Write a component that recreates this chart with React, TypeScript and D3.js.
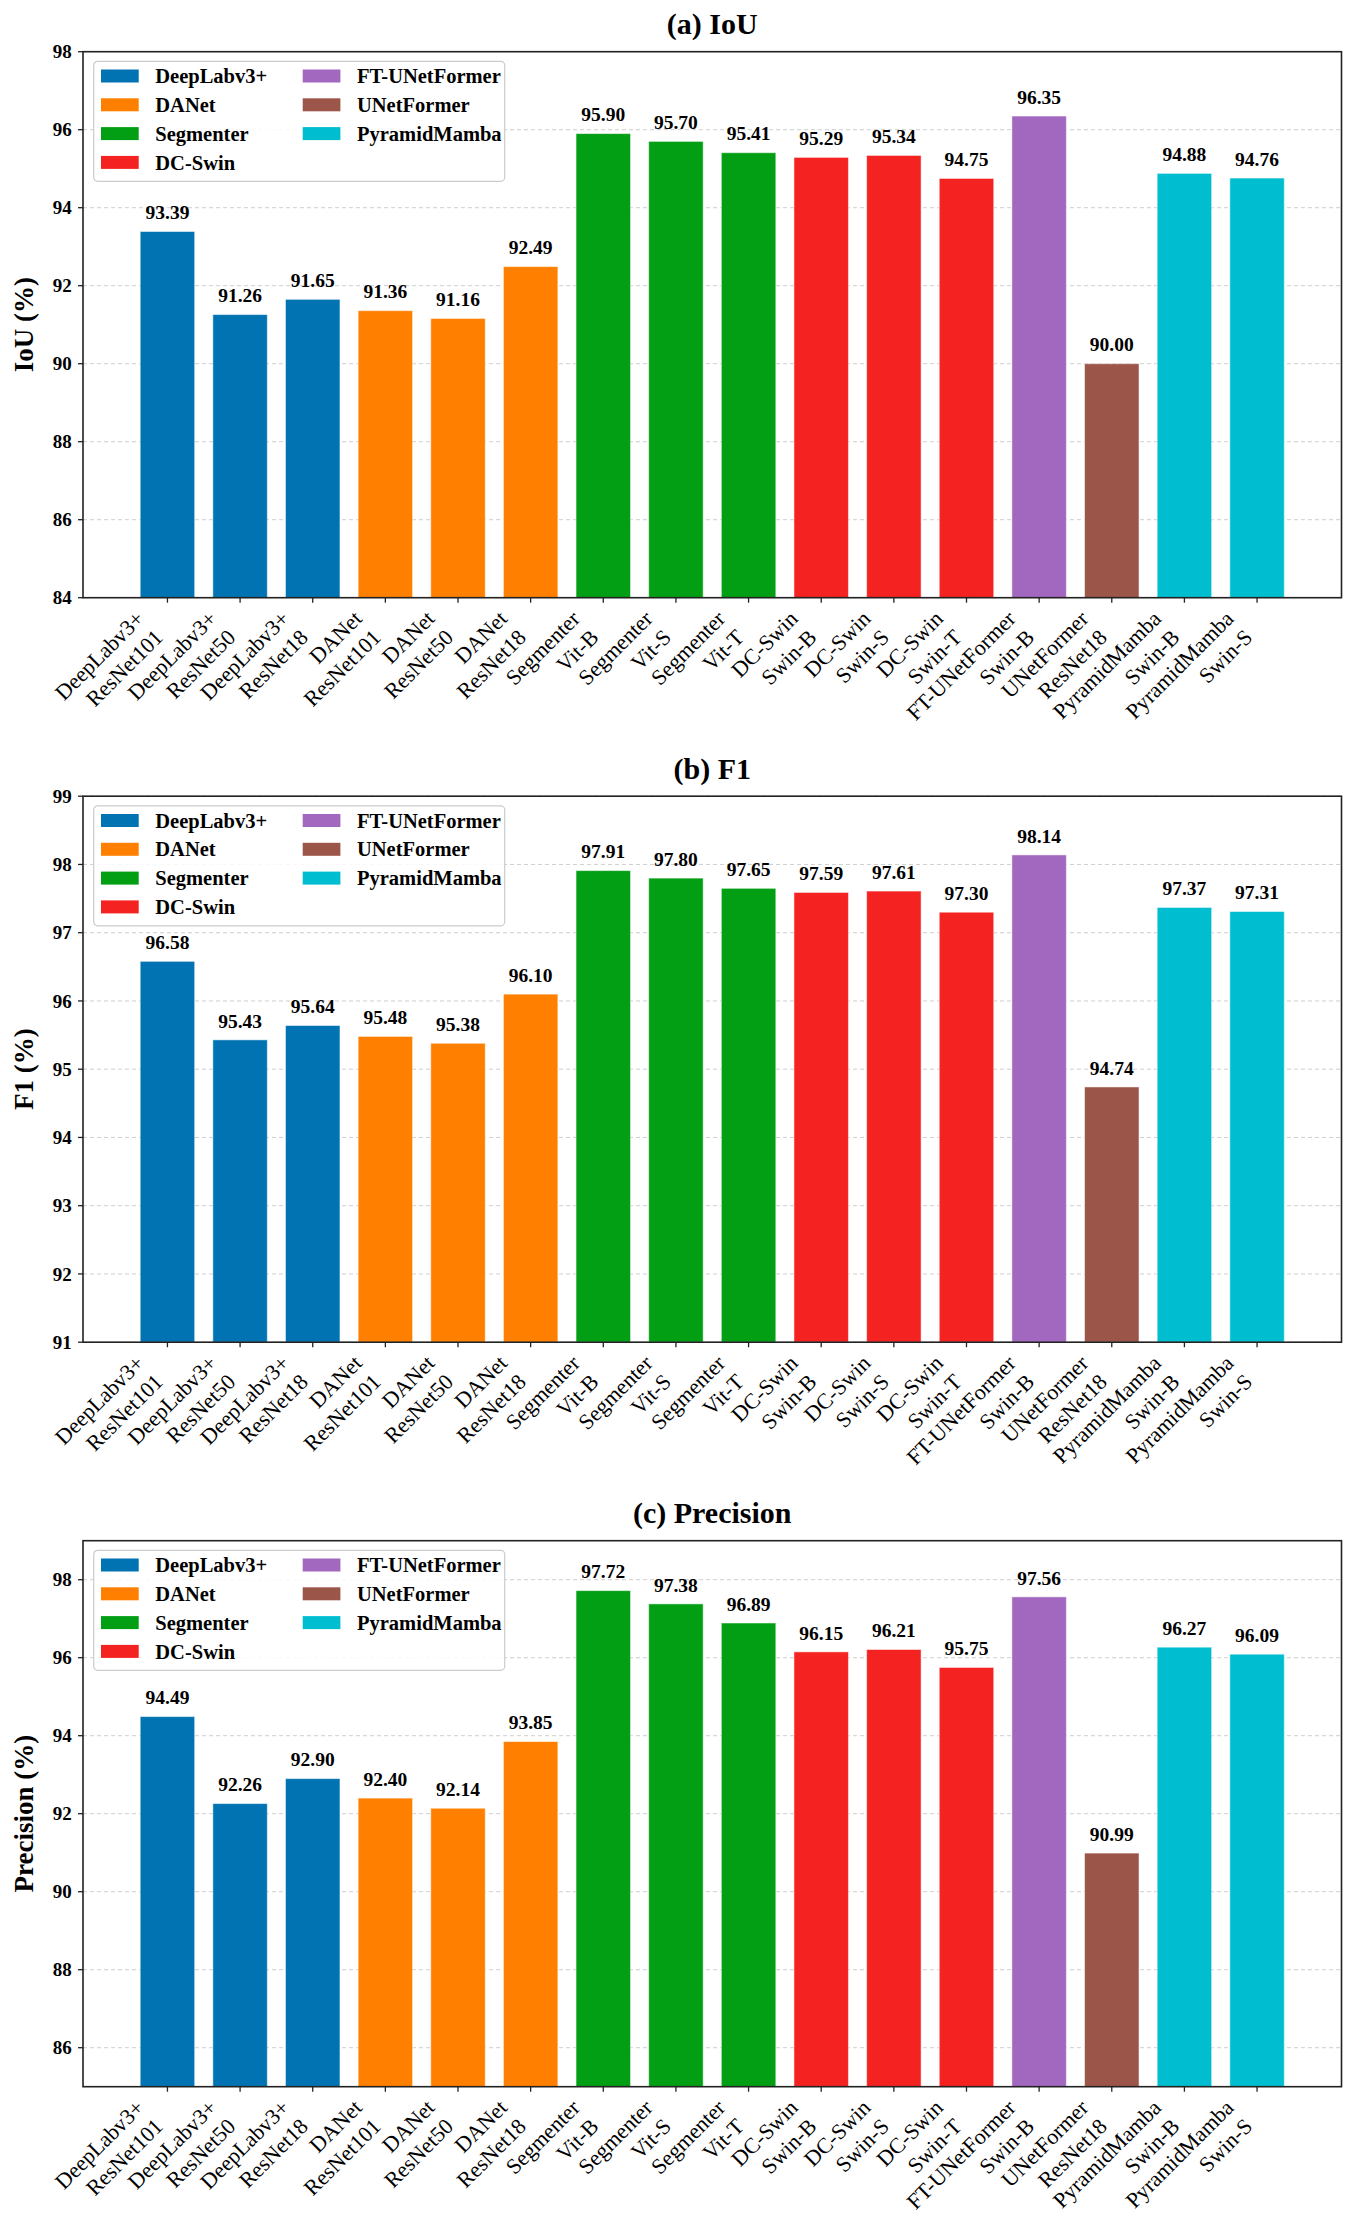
import React from 'react'
import * as d3 from 'd3'

const models = [
  'DeepLabv3+\nResNet101', 'DeepLabv3+\nResNet50', 'DeepLabv3+\nResNet18',
  'DANet\nResNet101', 'DANet\nResNet50', 'DANet\nResNet18',
  'Segmenter\nVit-B', 'Segmenter\nVit-S', 'Segmenter\nVit-T',
  'DC-Swin\nSwin-B', 'DC-Swin\nSwin-S', 'DC-Swin\nSwin-T',
  'FT-UNetFormer\nSwin-B', 'UNetFormer\nResNet18',
  'PyramidMamba\nSwin-B', 'PyramidMamba\nSwin-S'
]
const modelGroup = [0, 0, 0, 1, 1, 1, 2, 2, 2, 3, 3, 3, 4, 5, 6, 6]

const families = ['DeepLabv3+', 'DANet', 'Segmenter', 'DC-Swin', 'FT-UNetFormer', 'UNetFormer', 'PyramidMamba']
const familyColors = ['#0173b2', '#ff7f00', '#029e14', '#f52222', '#a267bf', '#9c5549', '#00bed0']

const iou = [93.39, 91.26, 91.65, 91.36, 91.16, 92.49, 95.90, 95.70, 95.41, 95.29, 95.34, 94.75, 96.35, 90.00, 94.88, 94.76]
const f1 = [96.58, 95.43, 95.64, 95.48, 95.38, 96.10, 97.91, 97.80, 97.65, 97.59, 97.61, 97.30, 98.14, 94.74, 97.37, 97.31]
const precision = [94.49, 92.26, 92.90, 92.40, 92.14, 93.85, 97.72, 97.38, 96.89, 96.15, 96.21, 95.75, 97.56, 90.99, 96.27, 96.09]

const iouTicks = [84, 86, 88, 90, 92, 94, 96, 98]
const f1Ticks = [91, 92, 93, 94, 95, 96, 97, 98, 99]
const precisionTicks = [86, 88, 90, 92, 94, 96, 98]

const panels = [
  { title: '(a) IoU', ylabel: 'IoU (%)', values: iou, domain: [84, 98], ticks: iouTicks },
  { title: '(b) F1', ylabel: 'F1 (%)', values: f1, domain: [91, 99], ticks: f1Ticks },
  { title: '(c) Precision', ylabel: 'Precision (%)', values: precision, domain: [85, 99], ticks: precisionTicks }
]

const W = 1353
const H = 2216
const FONT = '"Liberation Serif", "Times New Roman", serif'
const left = 83
const right = 1341.5
const panelTops = [51.7, 796.2, 1540.7]
const panelH = 546
const barWidth = 0.75

const Panel = ({ p, top }: { p: typeof panels[0], top: number }) => {
  const n = p.values.length
  const pad = (n - 1 + barWidth) * 0.05 + barWidth / 2
  const x = d3.scaleLinear().domain([-pad, n - 1 + pad]).range([left, right])
  const y = d3.scaleLinear().domain(p.domain).range([top + panelH, top])
  const bw = x(barWidth) - x(0)
  const bottom = top + panelH

  // rotated tick labels: right-aligned block, top-right corner at the tick
  const xFont = 22
  const lineH = xFont * 1.2
  const asc = xFont * 0.89
  const desc = xFont * 0.22
  const c = Math.SQRT1_2
  const labelTop = bottom + 5 + 3.5

  return (
    <g>
      <text x={(left + right) / 2} y={top - 17.4} textAnchor="middle" fontFamily={FONT}
        fontWeight="bold" fontSize={30}>{p.title}</text>

      {/* grid */}
      {p.ticks.map(t => (
        <line key={'g' + t} x1={left} x2={right} y1={y(t)} y2={y(t)} stroke="#b0b0b0"
          strokeWidth={1} strokeDasharray="4,3" opacity={0.6} />
      ))}

      {/* bars */}
      {p.values.map((v, i) => (
        <rect key={'b' + i} x={x(i) - bw / 2} y={y(v)} width={bw} height={bottom - y(v)}
          fill={familyColors[modelGroup[i]]} stroke="#ffffff" strokeOpacity={0.5} strokeWidth={1} />
      ))}

      {/* value labels */}
      {p.values.map((v, i) => (
        <text key={'v' + i} x={x(i)} y={y(v) - 12.3} textAnchor="middle" fontFamily={FONT}
          fontWeight="bold" fontSize={19.5}>{v.toFixed(2)}</text>
      ))}

      {/* frame */}
      <rect x={left} y={top} width={right - left} height={panelH} fill="none" stroke="#222" strokeWidth={1.6} />

      {/* y ticks */}
      {p.ticks.map(t => (
        <g key={'t' + t}>
          <line x1={left - 5} x2={left} y1={y(t)} y2={y(t)} stroke="#222" strokeWidth={1.3} />
          <text x={left - 11.3} y={y(t)} dy="0.35em" textAnchor="end" fontFamily={FONT}
            fontWeight="bold" fontSize={19}>{t}</text>
        </g>
      ))}
      <text transform={`translate(24, ${top + panelH / 2}) rotate(-90)`} textAnchor="middle"
        dy="0.35em" fontFamily={FONT} fontWeight="bold" fontSize={27}>{p.ylabel}</text>

      {/* x ticks */}
      {models.map((m, i) => {
        const lines = m.split('\n')
        const ax = x(i) - ((lines.length - 1) * lineH + desc) * c
        const ay = labelTop + asc * c
        return (
          <g key={'x' + i}>
            <line x1={x(i)} x2={x(i)} y1={bottom} y2={bottom + 5} stroke="#222" strokeWidth={1.3} />
            <text transform={`translate(${ax}, ${ay}) rotate(-45)`} textAnchor="end"
              fontFamily={FONT} fontSize={xFont}>
              {lines.map((l, k) => (
                <tspan key={k} x={0} y={k * lineH}>{l}</tspan>
              ))}
            </text>
          </g>
        )
      })}

      {/* legend */}
      <g transform={`translate(${left + 10.7}, ${top + 9.6})`}>
        <rect x={0} y={0} width={411} height={120} rx={4} fill="#fff" fillOpacity={0.85}
          stroke="#cccccc" strokeWidth={1.2} />
        {families.map((f, k) => {
          const col = k < 4 ? 0 : 1
          const row = k < 4 ? k : k - 4
          const cy = 14.7 + row * 28.8
          const ox = col * 201.7
          return (
            <g key={f}>
              <rect x={7.3 + ox} y={cy - 6.5} width={37.7} height={13} fill={familyColors[k]} />
              <text x={61.6 + ox} y={cy} dy="0.35em" fontFamily={FONT} fontWeight="bold"
                fontSize={20.5}>{f}</text>
            </g>
          )
        })}
      </g>
    </g>
  )
}

export default function App() {
  return (
    <div style={{ position: 'absolute', left: 0, top: 0 }}>
      <svg width={W} height={H} viewBox={`0 0 ${W} ${H}`} style={{ display: 'block', background: '#fff' }}>
        {panels.map((p, i) => (
          <Panel key={p.title} p={p} top={panelTops[i]} />
        ))}
      </svg>
    </div>
  )
}
